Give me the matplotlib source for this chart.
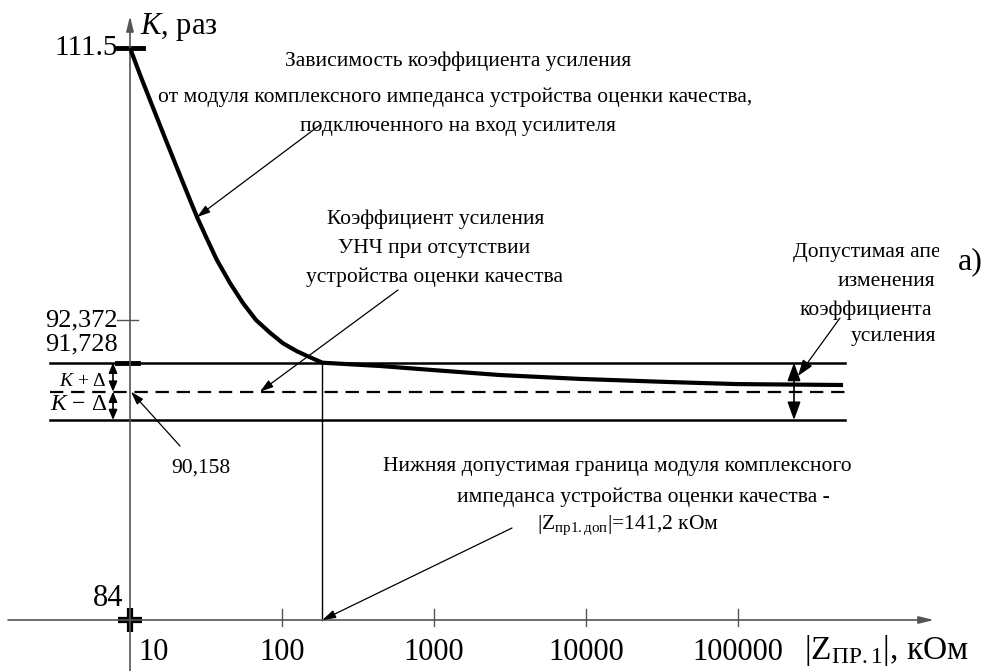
import numpy as np
import matplotlib.pyplot as plt
import matplotlib.transforms as mtransforms

plt.rcParams["font.family"] = ["Liberation Serif", "DejaVu Serif"]
plt.rcParams["mathtext.fontset"] = "custom"
plt.rcParams["mathtext.rm"] = "Liberation Serif"
plt.rcParams["mathtext.it"] = "Liberation Serif:italic"

# DATA ------------------------------------------------------------------------
# gain curve K(|Z|), read off the schematic
Z_CURVE = [10, 11.8, 14.2, 17.0, 20.4, 23.7, 27.6, 32.1, 37.3, 45.5, 55.3,
           67.4, 83.4, 101.6, 125.6, 152.8, 184.5, 441.6, 984, 2716, 9140,
           35700, 98400, 491000]
K_CURVE = [111.5, 109.46, 107.28, 105.17, 103.06, 101.34, 99.61, 98.07, 96.59,
           94.97, 93.57, 92.372, 92.18, 92.02, 91.90, 91.81, 91.728, 91.55,
           91.33, 91.06, 90.85, 90.68, 90.57, 90.52]

K_MAX = 111.5
K_TICK = 92.372
K_UP = 91.728       # K + delta
K_NOM = 90.158      # K without the quality meter
K_LOW = 88.588      # K - delta
K_MIN = 84

X_TICKS = [10, 100, 1000, 10000, 100000]
X_TICK_LABELS = ["10", "100", "1000", "10000", "100000"]
Z_DOP = 184.5       # where the vertical marker sits on the picture
Z_DOP_LABEL = "141,2"

# LAYOUT ----------------------------------------------------------------------
W, H = 994, 671
X0_PX, DECADE_PX = 130, 152          # pixel of Z=10 and pixels per decade
# the K axis is not to scale: piecewise mapping of K values to pixel rows
K_ANCHOR = np.array([60, K_MIN, K_LOW, K_NOM, K_UP, K_TICK, K_MAX, 140])
PX_ANCHOR = np.array([1666, 620, 420, 391.7, 362.7, 320, 48, -357])


def k_forward(k):
    return H - np.interp(k, K_ANCHOR, PX_ANCHOR)


def k_inverse(h):
    return np.interp(h, H - PX_ANCHOR, K_ANCHOR)


fig = plt.figure(figsize=(W / 100, H / 100), dpi=100)
ax = fig.add_axes([0, 0, 1, 1])
ax.set_xscale("log")
ax.set_yscale("function", functions=(k_forward, k_inverse))
ax.set_xlim(10 ** (1 - X0_PX / DECADE_PX), 10 ** (1 + (W - X0_PX) / DECADE_PX))
ax.set_ylim(k_inverse(0), k_inverse(H))
ax.axis("off")

# pixel coordinates measured from the top-left corner
pix = mtransforms.Affine2D().scale(1 / W, -1 / H).translate(0, 1) + fig.transFigure
xd_py = mtransforms.blended_transform_factory(ax.transData, pix)
px_yd = mtransforms.blended_transform_factory(pix, ax.transData)

AX_COLOR = "#555555"
ARROW = dict(arrowstyle="-|>,head_length=0.8,head_width=0.25", color="black",
             lw=0.9, shrinkA=0, shrinkB=0)
TXT = 15.5

# axes
ax.annotate("", xy=(10, 16), xycoords=xd_py, xytext=(10, H), textcoords=xd_py,
            arrowprops=dict(arrowstyle="-|>,head_length=0.9,head_width=0.22",
                            color=AX_COLOR, lw=1.2, shrinkA=0, shrinkB=0))
ax.annotate("", xy=(934, K_MIN), xycoords=px_yd, xytext=(8, K_MIN), textcoords=px_yd,
            arrowprops=dict(arrowstyle="-|>,head_length=0.9,head_width=0.22",
                            color=AX_COLOR, lw=1.2, shrinkA=0, shrinkB=0))
for z in X_TICKS[1:]:
    ax.plot([z, z], [609, 626], transform=xd_py, color=AX_COLOR, lw=1)
for z, lab in zip(X_TICKS, X_TICK_LABELS):
    if z == X_TICKS[0]:
        ax.text(z, 652, lab, transform=mtransforms.offset_copy(xd_py, fig, x=8, units="dots"),
                ha="left", va="center", fontsize=22)
    else:
        ax.text(z, 652, lab, transform=xd_py, ha="center", va="center", fontsize=22)
ax.text(804, 651, r"$|\mathrm{Z}_{\mathrm{ПР.1}}|$, кОм", transform=pix,
        ha="left", va="center", fontsize=24)
ax.text(140, 27, r"$K$, раз", transform=pix, ha="left", va="center", fontsize=22)

# y tick marks and labels
ax.plot([118, 143], [K_MAX, K_MAX], transform=px_yd, color="black", lw=3.5)
ax.plot([117, 138], [K_TICK, K_TICK], transform=px_yd, color=AX_COLOR, lw=1)
ax.plot([117, 138], [K_UP, K_UP], transform=px_yd, color="black", lw=3.5)
ax.plot(10, K_MIN, marker="+", ms=17, mew=4.5, color="black")
ax.text(118, K_MAX, "111.5", transform=px_yd, ha="right", va="center", fontsize=21)
ax.text(118, K_TICK, "92,372", transform=px_yd, ha="right", va="center", fontsize=19)
ax.text(118, 344, "91,728", transform=pix, ha="right", va="center", fontsize=19)
ax.text(123, 599, "84", transform=pix, ha="right", va="center", fontsize=22)
ax.text(107, 381, r"$K$ + Δ", transform=pix, ha="right", va="center", fontsize=14)
ax.text(107, 405, r"$K$ − Δ", transform=pix, ha="right", va="center", fontsize=17)
for a, b in [(K_UP, K_NOM), (K_NOM, K_LOW)]:
    ax.annotate("", xy=(113, a), xycoords=px_yd, xytext=(113, b), textcoords=px_yd,
                arrowprops=dict(arrowstyle="<|-|>,head_length=0.6,head_width=0.25",
                                color="black", lw=1.2, shrinkA=0, shrinkB=0))

# tolerance band
ax.axhline(K_UP, xmin=50 / W, xmax=845 / W, color="black", lw=1.8)
ax.axhline(K_NOM, xmin=50 / W, xmax=845 / W, color="black", lw=1.6, dashes=(6, 3.5))
ax.axhline(K_LOW, xmin=50 / W, xmax=845 / W, color="black", lw=1.8)
ax.plot([Z_DOP, Z_DOP], [K_MIN, K_UP], color="black", lw=1)
ax.annotate("", xy=(794, K_UP), xycoords=px_yd, xytext=(794, K_LOW), textcoords=px_yd,
            arrowprops=dict(arrowstyle="<|-|>,head_length=1.1,head_width=0.4",
                            color="black", lw=1.2, shrinkA=0, shrinkB=0))

# gain curve
ax.plot(Z_CURVE, K_CURVE, color="black", lw=3, solid_joinstyle="round",
        solid_capstyle="butt", zorder=3)

# annotations
for s, x, y in [("Зависимость коэффициента усиления", 458, 61),
                ("от модуля комплексного импеданса устройства оценки качества,", 455, 97),
                ("подключенного на вход усилителя", 458, 127)]:
    ax.text(x, y, s, transform=pix, ha="center", va="center", fontsize=TXT)
ax.annotate("", xy=(Z_CURVE[6], K_CURVE[6]), xycoords="data",
            xytext=(320, 125), textcoords=pix, arrowprops=ARROW)

for s, x, y in [("Коэффициент усиления", 436, 219),
                ("УНЧ при отсутствии", 434, 248),
                ("устройства оценки качества", 434, 277)]:
    ax.text(x, y, s, transform=pix, ha="center", va="center", fontsize=TXT)
ax.annotate("", xy=(260, K_NOM), xycoords=px_yd, xytext=(398, 290), textcoords=pix,
            arrowprops=ARROW)

# the top line of this caption is cut off by the "а)" mark on the original
for s, x, y in [("Допустимая апертура", 892, 252),
                ("изменения", 886, 282),
                ("коэффициента", 866, 310),
                ("усиления", 893, 337)]:
    t = ax.text(x, y, s, transform=pix, ha="center", va="center", fontsize=TXT)
    t.set_clip_box(mtransforms.TransformedBbox(
        mtransforms.Bbox.from_extents(0, 0, 939 / W, 1), fig.transFigure))
    t.set_clip_on(True)
ax.annotate("", xy=(798, 376), xycoords=pix, xytext=(840, 318), textcoords=pix,
            arrowprops=dict(ARROW, arrowstyle="-|>,head_length=1.0,head_width=0.35"))
ax.text(970, 262, "а)", transform=pix, ha="center", va="center", fontsize=23)

ax.text(201, 468, "90,158", transform=pix, ha="center", va="center", fontsize=TXT)
ax.annotate("", xy=(131, K_NOM), xycoords=px_yd, xytext=(180, 446), textcoords=pix,
            arrowprops=ARROW)

for s, x, y in [("Нижняя допустимая граница модуля комплексного", 617, 467),
                ("импеданса устройства оценки качества -", 643, 497),
                (r"$|\mathrm{Z}_{\mathrm{пр1.доп}}|$=" + Z_DOP_LABEL + " кОм", 628, 525)]:
    ax.text(x, y, s, transform=pix, ha="center", va="center", fontsize=TXT)
ax.annotate("", xy=(Z_DOP, K_MIN), xycoords="data", xytext=(512, 528), textcoords=pix,
            arrowprops=ARROW)

fig.savefig("out.png", dpi=100)
